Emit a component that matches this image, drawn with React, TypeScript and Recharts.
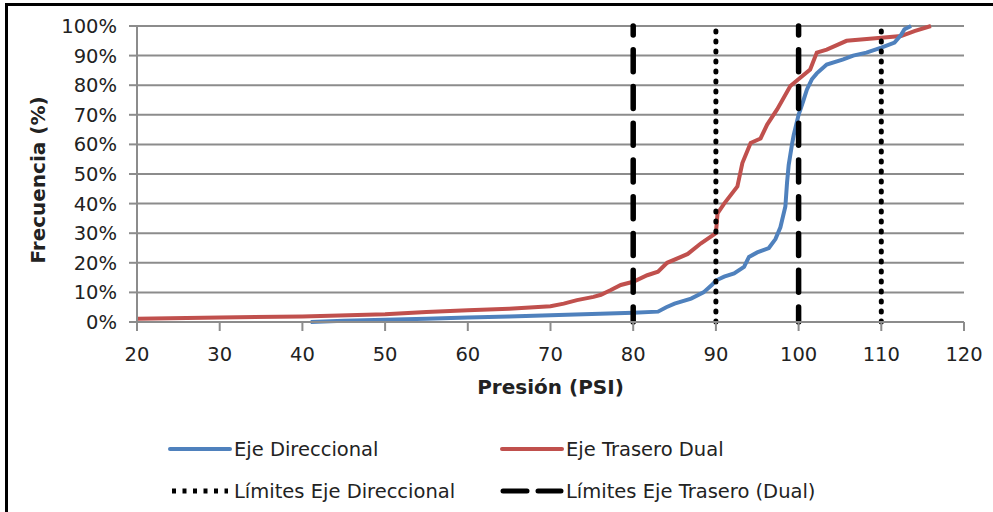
import { LineChart, Line, XAxis, YAxis, CartesianGrid, ReferenceLine } from "recharts"

// curvas acumuladas [presión PSI, frecuencia %]
const ejeDireccional: [number, number][] = [
  [41, 0], [45, 0.4], [50, 0.8], [55, 1.1], [60, 1.5], [65, 1.9], [70, 2.3], [75, 2.7],
  [80, 3.1], [83, 3.5], [84, 5], [85, 6.2], [87, 7.9], [88.5, 10], [89.5, 12.5], [90, 14],
  [91, 15.3], [92.2, 16.4], [93.4, 18.6], [94, 22], [95, 23.5], [96.4, 25], [97.2, 28],
  [97.8, 32], [98.4, 39], [98.6, 47], [98.8, 53], [99.2, 60], [99.4, 63], [100, 70],
  [100.6, 75], [101, 78.5], [101.6, 82], [102.2, 84], [103.4, 87], [105.4, 88.7],
  [106.6, 90], [108.2, 91], [110, 92.7], [111.6, 94.4], [112.4, 97], [112.8, 98.9], [113.6, 100],
]

const ejeTraseroDual: [number, number][] = [
  [20, 1.1], [30, 1.5], [40, 1.9], [50, 2.6], [55, 3.4], [60, 4], [65, 4.5], [70, 5.3],
  [71.6, 6.2], [73.2, 7.4], [75.2, 8.5], [76.1, 9.2], [77.3, 10.8], [78.5, 12.5], [80, 13.6],
  [81.7, 15.8], [83, 17], [84.1, 20], [86.6, 23], [88.2, 26.6], [90, 30], [90.2, 36.7],
  [91, 40], [92.6, 45.8], [93.2, 53.7], [94.2, 60.5], [95.4, 62], [96.2, 66.7], [97.4, 71.8],
  [99, 79.7], [100.2, 82.5], [101.4, 85.3], [102.2, 91], [103.4, 92], [105.8, 95], [110, 96],
  [112.4, 96.6], [114, 98.3], [116, 100],
]

const limitesDireccional = [90, 110]
const limitesTrasero = [80, 100]

const xTicks = [20, 30, 40, 50, 60, 70, 80, 90, 100, 110, 120]
const yTicks = [0, 10, 20, 30, 40, 50, 60, 70, 80, 90, 100]

const FONT = "'DejaVu Sans', Verdana, sans-serif"
const BLUE = "#4F81BD"
const RED = "#C0504D"
const GRID = "#8c8c8c"

const toPoints = (arr: [number, number][]) => arr.map(([x, y]) => ({ x, y }))

const YTitle = () => (
  <text
    x={38}
    y={180}
    transform="rotate(-90 38 180)"
    textAnchor="middle"
    dominantBaseline="central"
    fontFamily={FONT}
    fontWeight="bold"
    fontSize={20}
    fill="#222"
  >
    Frecuencia (%)
  </text>
)

function LegendItem({ left, top, label, kind }: { left: number; top: number; label: string; kind: string }) {
  let swatch
  if (kind === "blue" || kind === "red") {
    swatch = <line x1={2} y1={10} x2={62} y2={10} stroke={kind === "blue" ? BLUE : RED} strokeWidth={4} strokeLinecap="round" />
  } else if (kind === "dot") {
    swatch = <line x1={4} y1={10} x2={60} y2={10} stroke="#000" strokeWidth={5} strokeDasharray="4 6.5" />
  } else {
    swatch = <line x1={3} y1={10} x2={61} y2={10} stroke="#000" strokeWidth={5} strokeLinecap="round" strokeDasharray="24 11" />
  }
  return (
    <div style={{ position: "absolute", left, top, display: "flex", alignItems: "center", height: 20 }}>
      <svg width={64} height={20}>{swatch}</svg>
      <span style={{ fontFamily: FONT, fontSize: 19.5, color: "#222", marginLeft: 2, whiteSpace: "nowrap" }}>{label}</span>
    </div>
  )
}

export default function App() {
  return (
    <div style={{ position: "absolute", left: 0, top: 0, width: 993, height: 512, background: "#fff", overflow: "hidden" }}>
      <div style={{ position: "absolute", left: 5, top: 3, width: 1000, height: 520, borderLeft: "3px solid #000", borderTop: "3px solid #000" }} />
      <div style={{ position: "absolute", left: 0, top: 0 }}>
        <LineChart width={993} height={512} margin={{ top: 26, right: 29, bottom: 150, left: 37 }}>
          <CartesianGrid vertical={false} stroke={GRID} strokeWidth={2} />
          <XAxis
            type="number"
            dataKey="x"
            domain={[20, 120]}
            ticks={xTicks}
            allowDataOverflow
            height={40}
            stroke={GRID}
            strokeWidth={2}
            tickSize={9}
            tickMargin={16}
            tick={{ fontFamily: FONT, fontSize: 19.5, fill: "#222" }}
            label={{ value: "Presión (PSI)", position: "bottom", offset: 18, fontFamily: FONT, fontWeight: "bold", fontSize: 20, fill: "#222" }}
          />
          <YAxis
            type="number"
            dataKey="y"
            domain={[0, 100]}
            ticks={yTicks}
            width={100}
            stroke={GRID}
            strokeWidth={2}
            tickSize={8}
            tickMargin={12}
            tickFormatter={(v: number) => `${v}%`}
            tick={{ fontFamily: FONT, fontSize: 19.5, fill: "#222" }}
            label={{ content: YTitle }}
          />
          <Line data={toPoints(ejeTraseroDual)} dataKey="y" stroke={RED} strokeWidth={4} dot={false} activeDot={false} isAnimationActive={false} />
          <Line data={toPoints(ejeDireccional)} dataKey="y" stroke={BLUE} strokeWidth={4} dot={false} activeDot={false} isAnimationActive={false} />
          {limitesTrasero.map((v) => (
            <ReferenceLine key={"t" + v} x={v} stroke="#000" strokeWidth={5.5} strokeLinecap="round" strokeDasharray="22 14.75" strokeDashoffset={7} />
          ))}
          {limitesDireccional.map((v) => (
            <ReferenceLine key={"d" + v} x={v} stroke="#000" strokeWidth={5} strokeLinecap="round" strokeDasharray="1 9" />
          ))}
        </LineChart>
      </div>
      <LegendItem left={168} top={439} label="Eje Direccional" kind="blue" />
      <LegendItem left={500} top={439} label="Eje Trasero Dual" kind="red" />
      <LegendItem left={168} top={481} label="Límites Eje Direccional" kind="dot" />
      <LegendItem left={500} top={481} label="Límites Eje Trasero (Dual)" kind="dash" />
    </div>
  )
}
